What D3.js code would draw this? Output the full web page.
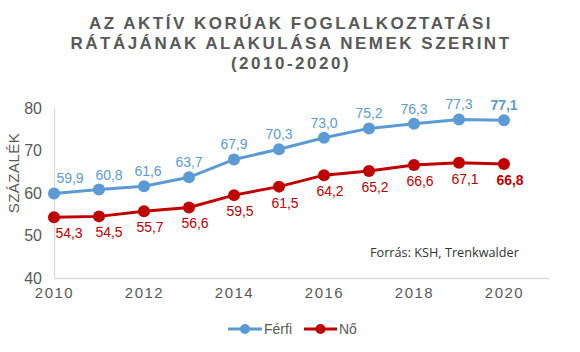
<!DOCTYPE html>
<html><head><meta charset="utf-8">
<script src="https://cdn.jsdelivr.net/npm/d3@7"></script>
<style>body{margin:0;background:#fff}svg{display:block}</style>
</head><body>
<script>
const years = [2010,2011,2012,2013,2014,2015,2016,2017,2018,2019,2020];
const ferfi = [59.9,60.8,61.6,63.7,67.9,70.3,73.0,75.2,76.3,77.3,77.1];
const no = [54.3,54.5,55.7,56.6,59.5,61.5,64.2,65.2,66.6,67.1,66.8];
const yTicks = [40,50,60,70,80];
const xTicks = [2010,2012,2014,2016,2018,2020];
const titleLines = ["AZ AKTÍV KORÚAK FOGLALKOZTATÁSI","RÁTÁJÁNAK ALAKULÁSA NEMEK SZERINT","(2010-2020)"];
const seriesNames = ["Férfi","Nő"];
const colors = ["#5B9BD5","#C00000"];

const W=580,H=352;
const svg=d3.select("body").append("svg").attr("width",W).attr("height",H);
const font="Liberation Sans, Arial, sans-serif";
const x=d3.scaleLinear().domain([2010,2021]).range([54,549]);
const y=d3.scaleLinear().domain([40,80]).range([278,108]);

// title
svg.append("g").selectAll("text").data(titleLines).join("text")
 .attr("x",291).attr("y",(d,i)=>29+i*20).attr("text-anchor","middle")
 .attr("font-family",font).attr("font-weight","bold").attr("font-size",17)
 .attr("letter-spacing",2.5).attr("fill","#595959").text(d=>d);

// axes
const gx=svg.append("g").attr("transform",`translate(0,${y(40)})`)
 .call(d3.axisBottom(x).tickValues(xTicks).tickSize(0).tickPadding(9).tickFormat(d3.format("d")));
gx.select(".domain").attr("stroke","#d9d9d9").attr("stroke-width",1.3);
gx.selectAll("text").attr("font-family",font).attr("font-size",15).attr("letter-spacing",1.5).attr("fill","#595959");
const gy=svg.append("g").attr("transform",`translate(${x(2010)},0)`)
 .call(d3.axisLeft(y).tickValues(yTicks).tickSize(0).tickPadding(12));
gy.select(".domain").attr("stroke","#d9d9d9").attr("stroke-width",1.3);
gy.selectAll("text").attr("font-family",font).attr("font-size",16).attr("fill","#595959");

svg.append("text").attr("transform","translate(19,173) rotate(-90)").attr("text-anchor","middle")
 .attr("font-family",font).attr("font-size",15).attr("letter-spacing",0.5).attr("fill","#595959").text("SZÁZALÉK");

const line=d3.line().x((d,i)=>x(years[i])).y(d=>y(d));
const dxBlue=i=>i===0?16:i===1?10:i===2?4:0;
const dxRed=i=>i===0?15:i===1?10:6;
[ferfi,no].forEach((s,k)=>{
  svg.append("path").datum(s).attr("d",line).attr("fill","none").attr("stroke",colors[k]).attr("stroke-width",3);
  svg.append("g").selectAll("circle").data(s).join("circle")
   .attr("cx",(d,i)=>x(years[i])).attr("cy",d=>y(d)).attr("r",6).attr("fill",colors[k]);
  svg.append("g").selectAll("text").data(s).join("text")
   .attr("x",(d,i)=>x(years[i])+(k===0?dxBlue(i):dxRed(i))).attr("y",d=>y(d)+(k===0?-10:21))
   .attr("text-anchor","middle").attr("font-family",font).attr("font-size",14)
   .attr("font-weight",(d,i)=>i===s.length-1?"bold":"normal")
   .attr("fill",colors[k]).text(d=>d.toFixed(1).replace(".",","));
});

svg.append("text").attr("x",370).attr("y",257).attr("font-family","Open Sans, sans-serif").attr("font-size",12.7)
 .attr("fill","#333").text("Forrás: KSH, Trenkwalder");

// legend
const lg=[{x1:228,x2:262,tx:264},{x1:304,x2:337,tx:339}];
lg.forEach((p,k)=>{
  svg.append("line").attr("x1",p.x1).attr("x2",p.x2).attr("y1",329).attr("y2",329).attr("stroke",colors[k]).attr("stroke-width",3);
  svg.append("circle").attr("cx",(p.x1+p.x2)/2).attr("cy",329).attr("r",5).attr("fill",colors[k]);
  svg.append("text").attr("x",p.tx).attr("y",334).attr("font-family",font).attr("font-size",14).attr("fill","#595959").text(seriesNames[k]);
});
</script>
</body></html>
